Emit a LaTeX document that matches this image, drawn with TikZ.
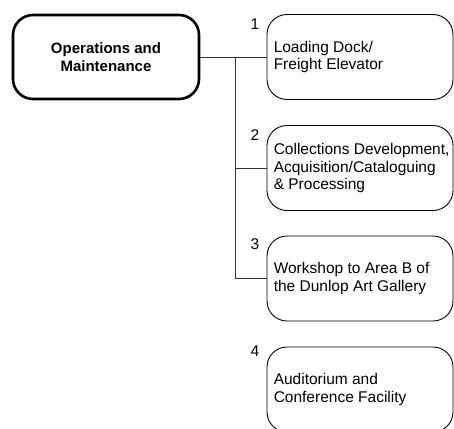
\documentclass[tikz,border=0pt]{standalone}
\usepackage{fontspec}
\setmainfont{Liberation Sans}
\begin{document}
\begin{tikzpicture}[x=1pt,y=1pt,
  mainbox/.style={draw=black, line width=2.6pt, rounded corners=20pt, minimum width=186pt, minimum height=84pt, align=center, font=\fontsize{15}{17.5}\selectfont\bfseries},
  unitbox/.style={draw=black, line width=0.9pt, rounded corners=20pt, minimum width=186pt, minimum height=85pt},
  unittext/.style={anchor=west, align=left, inner sep=0pt, font=\fontsize{15.5}{17.5}\selectfont},
  numlabel/.style={font=\fontsize{15.5}{17}\selectfont, inner sep=0pt},
  conn/.style={draw=black!80, line width=0.9pt}]
\useasboundingbox (0,0) rectangle (454,-428);
\node[mainbox] (m) at (106,-57) {Operations and\\Maintenance};
\node[unitbox] (b1) at (360,-57) {};
\node[unitbox] (b2) at (360,-168) {};
\node[unitbox] (b3) at (360,-278.5) {};
\node[unitbox] (b4) at (360,-389.5) {};
\node[unittext] (t1) at ([xshift=7pt]b1.west) {Loading Dock/\\Freight Elevator};
\node[unittext] (t2) at ([xshift=7pt]b2.west) {Collections Development,\\Acquisition/Cataloguing\\\& Processing};
\node[unittext] (t3) at ([xshift=7pt]b3.west) {Workshop to Area B of\\the Dunlop Art Gallery};
\node[unittext] (t4) at ([xshift=7pt]b4.west) {Auditorium and\\Conference Facility};
\node[numlabel] (n1) at (255,-24) {1};
\node[numlabel] (n2) at (255,-135) {2};
\node[numlabel] (n3) at (255,-244) {3};
\node[numlabel] (n4) at (255,-351) {4};
\coordinate (j1) at (235,-57);
\draw[conn] (m.east) -- (b1.west);
\draw[conn] (j1) |- (b3.west);
\draw[conn] (b2.west -| j1) -- (b2.west);
\end{tikzpicture}
\end{document}
